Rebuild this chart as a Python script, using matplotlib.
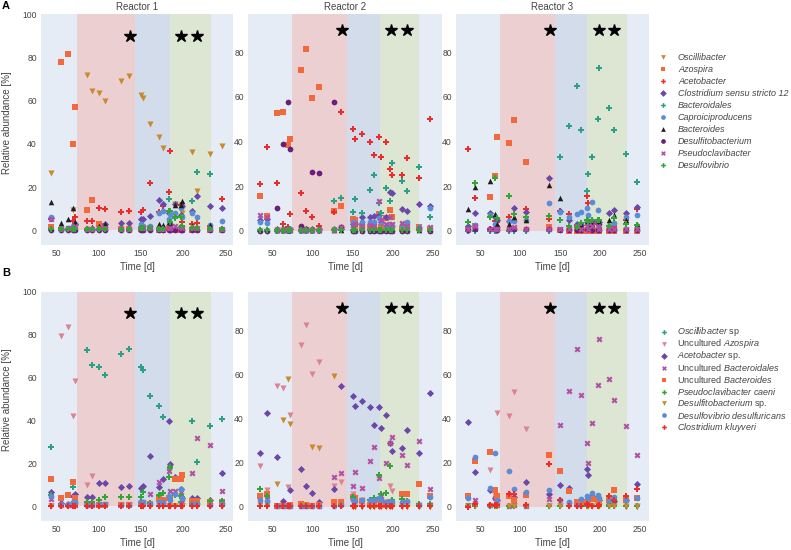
import matplotlib
matplotlib.use('Agg')
import matplotlib.pyplot as plt
from matplotlib.lines import Line2D

# sampling days per reactor
days_r1 = [44, 56, 64, 70, 72, 86, 92, 100, 108, 127, 136, 150, 153, 161, 171, 176, 183, 185, 191, 197, 199, 211, 217, 232, 246]
days_r2 = [35, 44, 56, 64, 70, 72, 86, 92, 100, 108, 127, 136, 150, 153, 161, 171, 176, 183, 185, 191, 197, 199, 211, 217, 232, 246]
days_r3 = [35, 44, 63, 69, 71, 86, 92, 107, 136, 150, 161, 171, 176, 183, 185, 190, 197, 199, 211, 217, 232, 246]

# phases and marked days
phases = [(75, 143), (143, 184), (184, 233)]
phase_colors = ['#ecd0d1', '#d3dcea', '#dce6d3']
star_days = [137, 198, 217]
star_level = 90

# ---- panel A (genus level) ----
a1_osc = [26.5, 0.5, 0.5, 9.5, 1, 72, 64.5, 63.5, 60, 69, 71.5, 62.5, 61, 49, 43, 38, 1, 8, 12, 11.5, 8, 36, 18, 35.5, 39]
a1_azo = [1.5, 78, 81.5, 40, 57, 9.5, 14, 3, 2, 0.5, 0.5, 0.5, 0.5, 1, 0, 0, 1, 0.5, 0, 0, 0, 0, 0, 0, 0]
a1_ace = [5, 1, 0.5, 4.5, 6, 4.5, 4.5, 10.5, 10, 8.5, 9, 8.5, 9.5, 22, 8.5, 11, 17.5, 36.5, 6, 11.5, 4, 3, 3.5, 2, 14.5]
a1_clo = [5.5, 0.5, 0.5, 1.5, 3, 0.5, 0.5, 1, 3, 3.5, 3.5, 5, 5, 6.5, 14, 12, 8, 3, 12, 7, 11, 9, 16, 11, 10.5]
a1_bal = [0, 0, 0, 0, 0, 0, 0, 0, 0, 0, 0, 0, 0.5, 0, 0, 0, 14.5, 9, 5.5, 1.5, 6, 13.5, 27, 26, 0.5]
a1_cap = [6, 1, 1, 2, 3, 0.5, 0.5, 0.5, 1, 0.5, 0.5, 3, 2, 2, 8, 9, 5, 7.5, 8, 10.5, 6, 8, 6, 2.5, 4.5]
a1_bac = [13, 3.5, 5, 10.5, 4, 1, 1.5, 2, 3, 1, 0.5, 0.5, 0.5, 1, 3, 2.5, 4, 3, 11.5, 11.5, 13.5, 2, 1, 2.5, 1]
a1_dfb = [0.3, 0.3, 0.3, 0.3, 0.3, 0.3, 0.3, 0.3, 0.3, 0.3, 0.3, 0.3, 0.3, 0.3, 0.3, 0.3, 0.3, 0.3, 0.3, 0.3, 0.3, 0.3, 0.3, 0.3, 0.3]
a1_pse = [5, 0.5, 1, 0.5, 2, 0.5, 0.5, 1, 1, 0.5, 0.5, 1, 1, 1, 0.5, 0.5, 1, 1, 2, 1.5, 1, 1, 1, 0.5, 0.5]
a1_dsv = [0.5, 0.5, 0.5, 0.5, 0.5, 0.5, 0.5, 0.5, 0.5, 0.5, 0.5, 1, 1, 1, 0.5, 0.5, 9, 4, 6, 6, 2, 1, 1, 0.5, 0.5]

a2_osc = [0, 0, 0.3, 0.3, 0.5, 0.5, 1, 0.5, 0.5, 0.5, 0.5, 0.5, 0.5, 0.5, 0.5, 0.5, 0.5, 0.5, 0.5, 0.5, 0.5, 0.5, 0.5, 0.5, 0.5, 0.5]
a2_azo = [15.7, 6.7, 52.6, 53.2, 38.4, 41, 72.2, 81.6, 59.5, 64.6, 9, 11.2, 5.2, 5, 2.2, 1.8, 2, 7.3, 1.5, 5.5, 9.3, 6.3, 0.6, 1.8, 1.5, 0.6]
a2_ace = [20.9, 37.4, 21.5, 3, 1.8, 7.6, 16.7, 9, 6.3, 2.2, 8.2, 53.2, 45.7, 41.3, 43.3, 40, 34, 41.9, 33.2, 40, 27.8, 24.8, 24.8, 32.7, 23.5, 50]
a2_clo = [5, 5.2, 1, 1, 1, 1, 1, 1, 1, 1, 1, 1, 3, 3, 6.3, 6.1, 6.6, 7, 4, 6, 17.5, 16.7, 9.6, 9, 12, 11.2]
a2_bal = [0, 0, 0, 0, 0, 0, 0, 0, 0, 0, 13.2, 14.5, 8.5, 14.2, 8.1, 18.2, 25, 12.6, 8.1, 19, 13.2, 30.5, 22.4, 17.8, 28.7, 6]
a2_cap = [3.9, 3.3, 0.3, 0.3, 0.3, 1, 0.3, 0.3, 0.3, 0.3, 1, 1.5, 3.7, 3.3, 4, 3.7, 4, 5.5, 4, 2, 3, 2, 2.7, 3.7, 1.5, 10]
a2_bac = [1, 1, 0.5, 0.5, 0.5, 0.5, 0.5, 0.5, 0.5, 0.5, 0.5, 0.5, 0.5, 0.5, 0.5, 0.5, 0.5, 0.5, 0.5, 0.5, 0.5, 0.5, 0.5, 0.5, 0.5, 0.5]
a2_dfb = [0, 0, 10.2, 38.9, 57.7, 36.6, 2, 1, 26.2, 25.7, 57.7, 1.8, 0, 0, 0, 0, 0, 0, 0, 0, 0, 0, 0, 0, 1, 0]
a2_pse = [7, 6.3, 0.5, 0.5, 0.5, 0.5, 0.5, 0.5, 0.5, 0.5, 0.5, 1.5, 2.5, 3, 2, 2.5, 2, 13.3, 5, 3, 6, 3, 3.5, 2, 1, 1.5]
a2_dsv = [0.5, 0.5, 0.5, 0.5, 0.5, 0.5, 0.5, 0.5, 0.5, 0.5, 0.5, 0.5, 0.5, 0.5, 0.5, 0.5, 0.5, 0.5, 0.5, 0.5, 0.5, 0.5, 0.5, 0.5, 0.5, 0.5]

a3_osc = [0.3, 0.3, 0.3, 0.3, 0.3, 0.3, 0.3, 0.3, 0.3, 0.3, 0.3, 0.3, 0.3, 0.3, 0.3, 0.3, 0.3, 0.3, 0.3, 0.3, 0.3, 0.3]
a3_azo = [1, 2.2, 15, 24.7, 41.9, 39.3, 49.8, 31, 1.8, 0.3, 0, 0, 0, 0, 0.3, 0, 0, 0, 0, 0, 0, 0]
a3_ace = [36.5, 14.5, 1, 4.5, 4, 6, 4.5, 9.9, 5.2, 8.7, 7.3, 2, 2, 15.7, 12.4, 3, 3, 3, 2, 2.2, 4.8, 9.6]
a3_clo = [2, 8, 8, 6.3, 5, 4.5, 10, 8.2, 23.6, 8.8, 5, 3, 2.5, 4, 4.5, 4.5, 4, 4, 8.1, 9.3, 7.8, 10.5]
a3_bal = [0, 0, 0, 0, 0, 0, 0, 0, 0, 33.2, 46.9, 64.9, 45, 17.9, 25.3, 33.2, 49.9, 73, 54.9, 45.1, 34.2, 22]
a3_cap = [1, 2.5, 7, 3, 1.8, 4.2, 4.3, 5, 12.6, 8.5, 6, 7.3, 8.5, 10, 7, 13, 9.3, 3, 2, 3.5, 6, 7]
a3_bac = [9.6, 19.7, 22.4, 7.3, 3, 3, 6.3, 5, 20.6, 14.8, 2, 1.5, 2.5, 4, 3, 3, 3.5, 4, 4.8, 7, 5, 3]
a3_dfb = [0.5, 1, 1, 1, 0.5, 1, 1, 1, 1, 0.5, 0.5, 0.5, 0.5, 1, 1, 0.5, 0.5, 0.5, 0.5, 0.5, 0.5, 0.5]
a3_pse = [1, 2, 1, 1, 1, 1, 1.5, 1, 1, 1, 1, 2, 1, 2, 1, 2, 2, 1, 1, 1, 1, 1]
a3_dsv = [3.7, 21.5, 6, 23.6, 5.5, 15.5, 7.5, 6, 6.6, 4.8, 2.2, 1.5, 3.3, 5, 4, 4.8, 5, 4.8, 2.1, 5.5, 3, 2.5]

# ---- panel B (species level) ----
b1_osc = [27.5, 1, 0.5, 9, 0.5, 73, 65.8, 65, 61.5, 71.2, 73.5, 65.2, 63.5, 51.5, 46.6, 41.8, 13.5, 18, 6, 2, 1, 39.7, 20.8, 37.7, 40.8]
b1_azo = [0, 79.4, 83.8, 42.2, 58.5, 9.8, 14.3, 0.5, 0.5, 0.5, 0.5, 0.3, 0.3, 0.3, 0.3, 0.3, 0.3, 0.3, 0.3, 0.3, 0.3, 0.3, 0.3, 0.3, 0.3]
b1_ace = [6.9, 1.5, 1, 5, 6, 4.3, 4.3, 10.8, 10.8, 8.9, 9.4, 8.8, 9.5, 23.5, 9.2, 12.8, 39.7, 19.8, 13.8, 8, 4, 3.8, 3.8, 3, 15.5]
b1_bal = [3.5, 0.5, 0.5, 0.5, 0.5, 0.5, 0.5, 1, 1, 1, 1, 2, 2, 6, 11.5, 2, 16.5, 7, 7, 6.5, 2, 15.8, 31.8, 28.5, 7.2]
b1_bac = [13, 3.8, 5.4, 11.5, 3.8, 1, 1, 0.5, 0.5, 0.5, 0.5, 1, 1, 1, 3.5, 3, 3.8, 4, 12.8, 12.8, 14.6, 2.3, 2.3, 2, 2]
b1_pse = [5.4, 0.3, 0.3, 0.3, 0.3, 2, 2, 2.8, 4.6, 4.3, 4.3, 4.5, 6.6, 1.5, 5.4, 6.2, 13.5, 18.5, 5.4, 4.9, 4.2, 1, 1, 2.3, 2.3]
b1_dfb = [0.3, 0.3, 0.3, 0.3, 0.3, 0.3, 0.3, 0.3, 0.3, 0.3, 0.3, 0.3, 0.3, 0.3, 0.3, 0.3, 0.3, 0.3, 0.3, 0.3, 0.3, 0.3, 0.3, 0.3, 0.3]
b1_dsv = [5, 1, 1, 2, 2, 0.5, 0.5, 1, 1, 0.5, 0.5, 2, 2, 1, 2, 2, 5, 3, 6, 8, 4, 1, 1, 0.5, 1]
b1_klu = [0.3, 0.3, 0.3, 0.3, 0.3, 0.3, 0.3, 0.3, 0.3, 0.3, 0.3, 0.3, 0.3, 0.3, 0.3, 0.3, 0.3, 0.3, 0.3, 0.3, 0.3, 0.3, 0.3, 0.3, 0.3]

b2_osc = [0.3, 0.3, 0.3, 0.3, 0.3, 0.3, 0.3, 0.3, 0.3, 0.3, 0.3, 0.3, 0.3, 0.3, 0.3, 0.3, 0.3, 0.3, 0.3, 0.3, 0.3, 0.3, 0.3, 0.3, 0.3, 0.3]
b2_azo = [18.4, 7.6, 54.6, 53.8, 9, 41.6, 73.1, 82.4, 60.2, 65.5, 9.4, 11.4, 5.7, 4, 3, 2, 3, 3.5, 2, 2, 9.4, 7.2, 1, 1, 1, 1]
b2_ace = [24.4, 42.3, 22.4, 2.7, 1, 7.6, 16.9, 9.3, 6.4, 2.2, 8.2, 54.9, 50.2, 45.6, 48.1, 45, 37.1, 45, 35.6, 41.4, 29, 25.4, 26.5, 34.8, 24.4, 51.3]
b2_bal = [5.4, 3.4, 0.3, 0.3, 0.3, 0.3, 0.3, 0.3, 0.3, 0.3, 13.6, 15.4, 9.4, 15.8, 8.7, 20.6, 27, 13.2, 5, 19.9, 29.1, 31.4, 23.6, 18.8, 29.6, 7.9]
b2_bac = [5, 5.7, 0.3, 0.3, 0.3, 1, 1.5, 1, 0.5, 1, 2, 2, 4.5, 3.9, 2.7, 1, 1, 3.1, 2, 1, 2.4, 2, 5.7, 5.7, 10.2, 4.9]
b2_pse = [8.2, 5, 0.3, 0.3, 0.3, 0.3, 0.3, 0.3, 0.3, 0.3, 0.5, 1, 4.5, 3, 0.5, 3, 4, 14.2, 6, 6.4, 18.4, 3, 3.4, 2.5, 1.5, 1.5]
b2_dfb = [1, 0.5, 10.5, 39.3, 57.7, 37.5, 1, 1, 26.9, 26.6, 59, 1, 0, 0, 0, 0, 0, 0, 0, 0, 0, 0, 0, 0, 0, 0]
b2_dsv = [3, 2.5, 0.3, 0.3, 0.3, 0.5, 0.3, 0.3, 0.3, 0.3, 0.5, 1, 3, 2.5, 3, 3, 3, 4, 3, 2, 2.5, 2, 2, 2.5, 1, 4.5]
b2_klu = [0.3, 0.3, 0.3, 0.3, 0.3, 0.3, 0.3, 0.3, 0.3, 0.3, 0.3, 0.3, 0.3, 0.3, 0.3, 0.3, 0.3, 0.3, 0.3, 0.3, 0.3, 0.3, 0.3, 0.3, 0.3, 0.3]

b3_osc = [0.3, 0.3, 0.3, 0.3, 0.3, 0.3, 0.3, 0.3, 0.3, 0.3, 0.3, 0.3, 0.3, 0.3, 0.3, 0.3, 0.3, 0.3, 0.3, 0.3, 0.3, 0.3]
b3_azo = [0.5, 0.5, 16.7, 5, 42.6, 41.3, 52, 35.4, 0.5, 0.3, 0.3, 0.3, 0.3, 0.3, 0.3, 0.3, 0.3, 0.3, 0.3, 0.3, 0, 0]
b3_ace = [38.3, 15.7, 7.6, 4, 3, 6, 4.5, 11.4, 6, 9.7, 8.7, 2, 2.5, 17.3, 14.2, 5, 4, 3, 1.5, 2.5, 3, 10.2]
b3_bal = [1, 3, 1, 4, 1, 0.5, 1, 0.5, 3.4, 37.1, 52.3, 71.2, 50.5, 28.8, 19.9, 38.1, 55, 76, 57.8, 48.3, 36.6, 23.5]
b3_bac = [4.9, 20.6, 24.8, 7.6, 5, 5, 3, 5.4, 23.3, 16.1, 7.2, 2.2, 1.5, 2, 2.5, 3.7, 3, 2.5, 3, 7.6, 3, 4]
b3_pse = [0.5, 0.5, 0.5, 0.5, 0.5, 0.5, 0.5, 0.5, 0.5, 0.5, 0.5, 0.5, 0.5, 0.5, 0.5, 0.5, 0.5, 0.5, 0.5, 0.5, 0.5, 0.5]
b3_dfb = [0.3, 0.3, 0.3, 0.3, 0.3, 0.3, 0.3, 0.3, 0.3, 0.3, 0.3, 0.3, 0.3, 0.3, 0.3, 0.3, 0.3, 0.3, 0.3, 0.3, 0.3, 0.3]
b3_dsv = [4, 22.6, 8.5, 24.2, 3, 16.1, 7.9, 6.9, 7.6, 3, 2.2, 1, 3.4, 5, 4, 6.4, 5.2, 4, 3, 4.5, 3, 4]
b3_klu = [0, 1.5, 1, 1, 1, 6, 6, 1, 19.4, 3, 0.5, 0.5, 0.5, 1.5, 1, 0.5, 0.5, 1, 4.9, 3, 4.9, 7.9]

labels_a = ['Oscillibacter', 'Azospira', 'Acetobacter', 'Clostridium sensu stricto 12', 'Bacteroidales',
            'Caproiciproducens', 'Bacteroides', 'Desulfitobacterium', 'Pseudoclavibacter', 'Desulfovibrio']
labels_b = [r'$\mathit{Oscillibacter}$ sp', r'Uncultured $\mathit{Azospira}$', r'$\mathit{Acetobacter}$ sp.',
            r'Uncultured $\mathit{Bacteroidales}$', r'Uncultured $\mathit{Bacteroides}$',
            r'$\mathit{Pseudoclavibacter\ caeni}$', r'$\mathit{Desulfitobacterium}$ sp.',
            r'$\mathit{Desulfovibrio\ desulfuricans}$', r'$\mathit{Clostridium\ kluyveri}$']

# colours / markers
BROWN, ORANGE, RED, PURPLE = '#c98a2e', '#f26a3c', '#ee2b2b', '#6a47a8'
TEAL, BLUE, BLACK, DPURPLE = '#2aa184', '#5a8dd6', '#1e1e1e', '#6b1f7c'
MAGENTA, GREEN, PINK = '#b14fa3', '#34a535', '#d9848e'

style_a = [(BROWN, 'v', 19), (ORANGE, 's', 17), (RED, 'P', 24), (PURPLE, 'D', 13), (TEAL, 'P', 24),
           (BLUE, 'o', 17), (BLACK, '^', 16), (DPURPLE, 'o', 17), (MAGENTA, 'X', 19), (GREEN, 'P', 24)]
style_b = [(TEAL, 'P', 24), (PINK, 'v', 19), (PURPLE, 'D', 13), (MAGENTA, 'X', 19), (ORANGE, 's', 17),
           (GREEN, 'P', 24), (BROWN, 'v', 19), (BLUE, 'o', 17), (RED, 'P', 24)]

series_a = [
    (days_r1, [a1_osc, a1_azo, a1_ace, a1_clo, a1_bal, a1_cap, a1_bac, a1_dfb, a1_pse, a1_dsv]),
    (days_r2, [a2_osc, a2_azo, a2_ace, a2_clo, a2_bal, a2_cap, a2_bac, a2_dfb, a2_pse, a2_dsv]),
    (days_r3, [a3_osc, a3_azo, a3_ace, a3_clo, a3_bal, a3_cap, a3_bac, a3_dfb, a3_pse, a3_dsv]),
]
series_b = [
    (days_r1, [b1_osc, b1_azo, b1_ace, b1_bal, b1_bac, b1_pse, b1_dfb, b1_dsv, b1_klu]),
    (days_r2, [b2_osc, b2_azo, b2_ace, b2_bal, b2_bac, b2_pse, b2_dfb, b2_dsv, b2_klu]),
    (days_r3, [b3_osc, b3_azo, b3_ace, b3_bal, b3_bac, b3_pse, b3_dfb, b3_dsv, b3_klu]),
]

plt.rcParams['font.family'] = 'Liberation Sans'
plt.rcParams['mathtext.fontset'] = 'custom'
plt.rcParams['mathtext.it'] = 'Liberation Sans:italic'
plt.rcParams['mathtext.rm'] = 'Liberation Sans'

TXT = '#444444'
W, H = 791, 550
fig = plt.figure(figsize=(W / 100, H / 100), dpi=100)

cols_px = [(41, 233), (248, 442), (456, 649)]
rows_px = [(14, 245), (292, 521)]
xlims = [(32, 259), (20, 261), (20, 261)]


def draw_panel(ax, days, values, styles, col, top):
    y0 = -6.8 if col == 0 else -6.4
    ax.set_xlim(*xlims[col])
    ax.set_ylim(y0, top)
    ax.set_facecolor('#e5ecf6')
    for (s, e), c in zip(phases, phase_colors):
        ax.fill_between([s, e], 0, top, color=c, lw=0, zorder=1)
    for vals, (c, m, sz) in zip(values, styles):
        ax.scatter(days, vals, marker=m, s=sz, c=c, linewidths=0, zorder=3)
    ax.plot(star_days, [star_level] * len(star_days), ls='none', marker='*',
            ms=9, color='black', zorder=4)
    for sp in ax.spines.values():
        sp.set_visible(False)
    ax.set_xticks([50, 100, 150, 200, 250])
    ax.set_yticks([0, 20, 40, 60, 80, 100] if col == 0 else [0, 20, 40, 60, 80])
    ax.tick_params(length=0, labelsize=6.2, labelcolor=TXT, pad=3)
    ax.set_xlabel('Time [d]', fontsize=7, color=TXT, labelpad=3)


for r, (series, styles) in enumerate([(series_a, style_a), (series_b, style_b)]):
    t, b = rows_px[r]
    for c, (days, values) in enumerate(series):
        l, rr = cols_px[c]
        ax = fig.add_axes([l / W, 1 - b / H, (rr - l) / W, (b - t) / H])
        draw_panel(ax, days, values, styles, c, 100 if c == 0 else 97.2)
        if r == 0:
            ax.set_title('Reactor %d' % (c + 1), fontsize=7, color=TXT, pad=3)
        if c == 0:
            ax.set_ylabel('Relative abundance [%]', fontsize=7, color=TXT)
            ax.yaxis.set_label_coords(-0.15, 0.53)

# legends drawn by hand
for i, (lab, (c, m, sz)) in enumerate(zip(labels_a, style_a)):
    y = 1 - (57 + 12 * i) / H
    fig.add_artist(Line2D([663 / W], [y], marker=m, ms=3.4, color=c, ls='none', mew=0))
    fig.text(678 / W, y, lab, fontsize=6.5, style='italic', color=TXT, va='center')

for i, (lab, (c, m, sz)) in enumerate(zip(labels_b, style_b)):
    y = 1 - (332 + 11.9 * i) / H
    fig.add_artist(Line2D([664 / W], [y], marker=m, ms=3.4, color=c, ls='none', mew=0))
    fig.text(677 / W, y, lab, fontsize=6.5, color=TXT, va='center')

fig.text(2 / W, 1 - 1 / H, 'A', fontsize=8, weight='bold', va='top', ha='left')
fig.text(2 / W, 1 - 268 / H, 'B', fontsize=8, weight='bold', va='top', ha='left')

fig.savefig('out.png', dpi=100)
